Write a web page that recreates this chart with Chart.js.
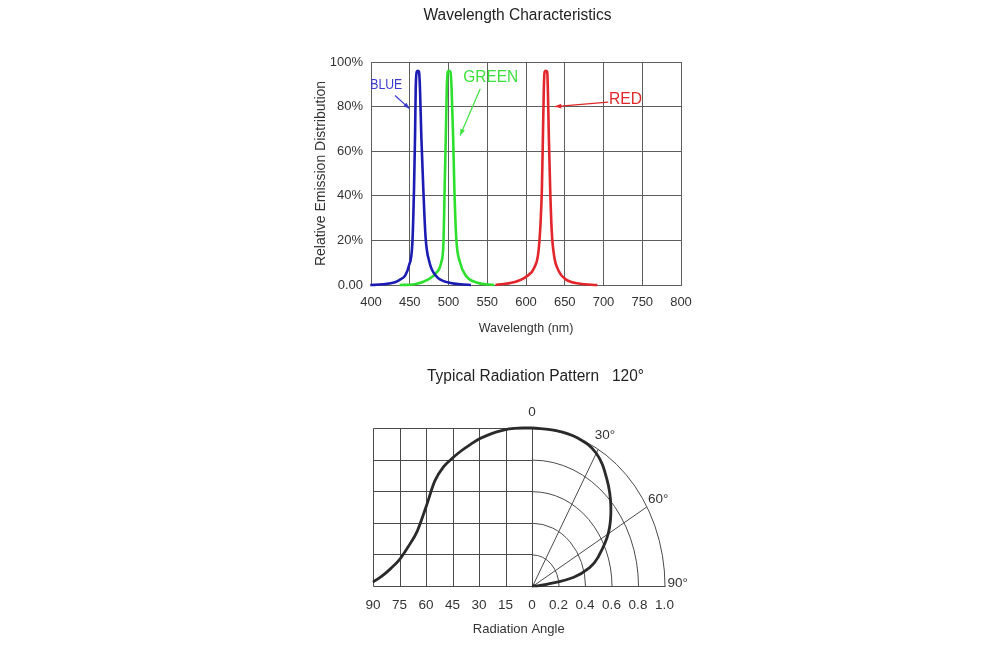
<!DOCTYPE html>
<html>
<head>
<meta charset="utf-8">
<script src="https://cdn.jsdelivr.net/npm/chart.js@4.4.0/dist/chart.umd.min.js"></script>
<style>
  html, body { margin: 0; padding: 0; background: #fff; }
  #wrap { position: relative; width: 1000px; height: 646px; }
  canvas { position: absolute; left: 0; }
  #spectrum { top: 0; }
  #pattern { top: 345px; }
</style>
</head>
<body>
<div id="wrap">
  <canvas id="spectrum" width="1000" height="345"></canvas>
  <canvas id="pattern" width="1000" height="301"></canvas>
</div>
<script>
// ---- wavelength chart data (nm, %) ----
const wavelengthTicks = ['400', '450', '500', '550', '600', '650', '700', '750', '800'];
const percentTicks = ['0.00', '20%', '40%', '60%', '80%', '100%'];

const blueNm = [399, 415, 431, 438, 444, 449, 453.4, 455.5, 456.8, 457.7, 459, 460.5, 462, 463.2, 465, 467.5, 470.5, 475.6, 484, 499, 529];
const blueVal = [0, 0.3, 1.2, 2.5, 4.2, 8.7, 19, 43, 66, 88, 95.5, 96, 95.5, 88, 66, 43, 21, 10, 4, 1.2, 0];

const greenNm = [437, 456, 473.4, 484, 490.5, 493.5, 495, 496.5, 497.8, 499, 500.7, 502.5, 504, 506, 507.6, 510, 515, 522.5, 537.5, 559];
const greenVal = [0, 0.3, 2.4, 5.4, 10, 19, 43, 66, 88, 95.5, 96, 95.5, 88, 66, 43, 21, 10, 4.2, 1, 0];

const redNm = [560.7, 584, 601, 611, 616, 618.8, 620.5, 621.8, 623, 624, 625.7, 627.4, 628.2, 629.5, 631.2, 633.3, 636.3, 642, 651.7, 669.7, 692];
const redVal = [0, 1.2, 3.9, 8, 14.7, 28, 43, 66, 88, 95.5, 96, 95.5, 88, 66, 43, 23.6, 13, 6.4, 2.4, 0.6, 0];

// ---- radiation pattern data ----
const angleTicks = ['90', '75', '60', '45', '30', '15', '0'];
const intensityTicks = ['0.2', '0.4', '0.6', '0.8', '1.0'];

// left half: intensity vs angle
const profileAngle = [90, 85, 80, 75, 70, 65, 60, 55, 50, 45, 40, 35, 30, 25, 20, 15, 10, 5, 0];
const profileValue = [0.025, 0.062, 0.11, 0.167, 0.25, 0.346, 0.5, 0.665, 0.755, 0.81, 0.856, 0.895, 0.93, 0.955, 0.975, 0.99, 0.997, 1.0, 1.0];

// right half: polar plot
const polarAngle = [0, 10, 20, 30, 40, 50, 60, 70, 75, 80, 85, 88, 90];
const polarValue = [1.0, 1.0, 0.998, 0.97, 0.88, 0.777, 0.665, 0.53, 0.45, 0.32, 0.11, 0.03, 0];

const ANGLE_STEP = 15; // degrees per grid cell
const RING_UNITS = 5;  // grid cells per 1.0 intensity

Chart.defaults.font.family = "'Liberation Sans', Arial, sans-serif";
Chart.defaults.color = '#333';

const toPoints = (xs, ys) => xs.map((x, i) => ({ x, y: ys[i] }));

// labels + arrows on the spectrum chart
const spectrumNotes = [
  { text: 'BLUE', color: '#3a3ad0', size: 14, width: 32, at: [399, 89.7], from: [431, 85], to: [450, 79] },
  { text: 'GREEN', color: '#3ee03e', size: 16, width: 55, at: [519, 92.8], from: [541, 88], to: [515, 67] },
  { text: 'RED', color: '#e02828', size: 16, width: 33, at: [707, 83], from: [706, 82], to: [637, 80] }
];

const spectrumText = {
  id: 'spectrumText',
  afterDraw(chart) {
    const { ctx, scales: { x, y } } = chart;
    ctx.save();
    ctx.fillStyle = '#222';
    ctx.font = "16px 'Liberation Sans', Arial, sans-serif";
    ctx.textAlign = 'center';
    ctx.textBaseline = 'middle';
    ctx.fillText('Wavelength Characteristics', 517.5, 16, 188);

    spectrumNotes.forEach(n => {
      ctx.fillStyle = n.color;
      ctx.strokeStyle = n.color;
      ctx.font = n.size + "px 'Liberation Sans', Arial, sans-serif";
      ctx.textAlign = 'left';
      ctx.fillText(n.text, x.getPixelForValue(n.at[0]), y.getPixelForValue(n.at[1]), n.width);
      const x1 = x.getPixelForValue(n.from[0]), y1 = y.getPixelForValue(n.from[1]);
      const x2 = x.getPixelForValue(n.to[0]), y2 = y.getPixelForValue(n.to[1]);
      ctx.lineWidth = 1.2;
      ctx.beginPath();
      ctx.moveTo(x1, y1);
      ctx.lineTo(x2, y2);
      ctx.stroke();
      const a = Math.atan2(y2 - y1, x2 - x1);
      ctx.beginPath();
      ctx.moveTo(x2, y2);
      ctx.lineTo(x2 - 7 * Math.cos(a - 0.35), y2 - 7 * Math.sin(a - 0.35));
      ctx.lineTo(x2 - 7 * Math.cos(a + 0.35), y2 - 7 * Math.sin(a + 0.35));
      ctx.closePath();
      ctx.fill();
    });
    ctx.restore();
  }
};

new Chart(document.getElementById('spectrum'), {
  type: 'scatter',
  data: {
    datasets: [
      { label: 'BLUE', data: toPoints(blueNm, blueVal), borderColor: '#1c1cb4' },
      { label: 'GREEN', data: toPoints(greenNm, greenVal), borderColor: '#2ee02e' },
      { label: 'RED', data: toPoints(redNm, redVal), borderColor: '#e3262b' }
    ]
  },
  options: {
    responsive: false,
    animation: false,
    layout: { padding: { left: 300, right: 319, top: 62, bottom: 0 } },
    datasets: { scatter: { showLine: true, clip: false } },
    elements: {
      point: { radius: 0 },
      line: { borderWidth: 2.6, cubicInterpolationMode: 'monotone' }
    },
    plugins: { legend: { display: false }, tooltip: { enabled: false } },
    scales: {
      x: {
        type: 'linear', min: 400, max: 800,
        afterFit: s => { s.height = 60; },
        ticks: { stepSize: 50, padding: 10, font: { size: 13 }, maxRotation: 0, autoSkip: false,
                 callback: (v, i) => wavelengthTicks[i] },
        grid: { color: '#5e5e5e', drawTicks: false },
        border: { color: '#5e5e5e' },
        title: { display: true, text: 'Wavelength (nm)', font: { size: 12.5 }, padding: { bottom: 9 } }
      },
      y: {
        min: 0, max: 100,
        afterFit: s => { s.width = 71; },
        ticks: { stepSize: 20, padding: 8, font: { size: 13 }, callback: (v, i) => percentTicks[i] },
        grid: { color: '#5e5e5e', drawTicks: false },
        border: { color: '#5e5e5e' },
        title: { display: true, text: 'Relative Emission Distribution', font: { size: 14 }, padding: { top: 13 } }
      }
    }
  },
  plugins: [spectrumText]
});

// ---- radiation pattern ----
const profilePoints = profileAngle.map((a, i) => ({ x: -a / ANGLE_STEP, y: profileValue[i] }));
const polarPoints = polarAngle.map((a, i) => {
  const t = a * Math.PI / 180;
  return { x: polarValue[i] * Math.sin(t) * RING_UNITS, y: polarValue[i] * Math.cos(t) };
});

const patternGrid = {
  id: 'patternGrid',
  beforeDatasetsDraw(chart) {
    const { ctx, scales: { x, y } } = chart;
    const px = v => Math.round(x.getPixelForValue(v)) + 0.5;
    const py = v => Math.round(y.getPixelForValue(v)) + 0.5;
    const cx = px(0), cy = py(0);
    ctx.save();
    ctx.strokeStyle = '#4a4a4a';
    ctx.lineWidth = 1;
    ctx.beginPath();
    for (let i = 0; i < angleTicks.length; i++) {
      const gx = px(i - (angleTicks.length - 1));
      ctx.moveTo(gx, py(0));
      ctx.lineTo(gx, py(1));
    }
    for (let k = 0; k <= RING_UNITS; k++) {
      const gy = py(k / RING_UNITS);
      ctx.moveTo(px(1 - angleTicks.length), gy);
      ctx.lineTo(cx, gy);
    }
    ctx.moveTo(cx, cy);
    ctx.lineTo(px(RING_UNITS), cy);
    for (let k = 1; k <= RING_UNITS; k++) {
      const rx = x.getPixelForValue(k) - x.getPixelForValue(0);
      const ry = y.getPixelForValue(0) - y.getPixelForValue(k / RING_UNITS);
      ctx.moveTo(cx, cy - ry);
      ctx.ellipse(cx, cy, rx, ry, 0, -Math.PI / 2, 0);
    }
    [30, 60].forEach(a => {
      const t = a * Math.PI / 180;
      ctx.moveTo(cx, cy);
      ctx.lineTo(x.getPixelForValue(Math.sin(t) * RING_UNITS), y.getPixelForValue(Math.cos(t)));
    });
    ctx.stroke();
    ctx.restore();
  },
  afterDraw(chart) {
    const { ctx, scales: { x, y } } = chart;
    ctx.save();
    ctx.fillStyle = '#222';
    ctx.textAlign = 'center';
    ctx.textBaseline = 'middle';
    ctx.font = "16px 'Liberation Sans', Arial, sans-serif";
    ctx.fillText('Typical Radiation Pattern   120°', 535.5, 32, 217);
    ctx.fillStyle = '#333';
    ctx.font = "13.5px 'Liberation Sans', Arial, sans-serif";
    [[0, '0'], [30, '30°'], [60, '60°'], [90, '90°']].forEach(([a, txt]) => {
      const t = a * Math.PI / 180;
      const r = 1.1;
      ctx.fillText(txt, x.getPixelForValue(r * Math.sin(t) * RING_UNITS), y.getPixelForValue(r * Math.cos(t)) - (a === 90 ? 3 : 0));
    });
    ctx.restore();
  }
};

new Chart(document.getElementById('pattern'), {
  type: 'scatter',
  data: {
    datasets: [
      { data: profilePoints, cubicInterpolationMode: 'monotone', borderColor: '#2a2a2a', borderWidth: 2.8 },
      { data: polarPoints, tension: 0.4, borderColor: '#2a2a2a', borderWidth: 2.8 }
    ]
  },
  options: {
    responsive: false,
    animation: false,
    layout: { padding: { left: 373, right: 335.5, top: 83, bottom: 0 } },
    datasets: { scatter: { showLine: true, clip: false } },
    elements: { point: { radius: 0 } },
    plugins: { legend: { display: false }, tooltip: { enabled: false } },
    scales: {
      x: {
        type: 'linear', min: -6, max: 5,
        afterFit: s => { s.height = 60; },
        ticks: { stepSize: 1, padding: 11, font: { size: 13.5 }, maxRotation: 0, autoSkip: false,
                 callback: (v, i) => (i < angleTicks.length ? angleTicks[i] : intensityTicks[i - angleTicks.length]) },
        grid: { display: false, drawTicks: false },
        border: { display: false },
        title: { display: true, text: 'Radiation Angle', font: { size: 13 }, padding: { bottom: 9 } }
      },
      y: { display: false, min: 0, max: 1 }
    }
  },
  plugins: [patternGrid]
});
</script>
</body>
</html>
